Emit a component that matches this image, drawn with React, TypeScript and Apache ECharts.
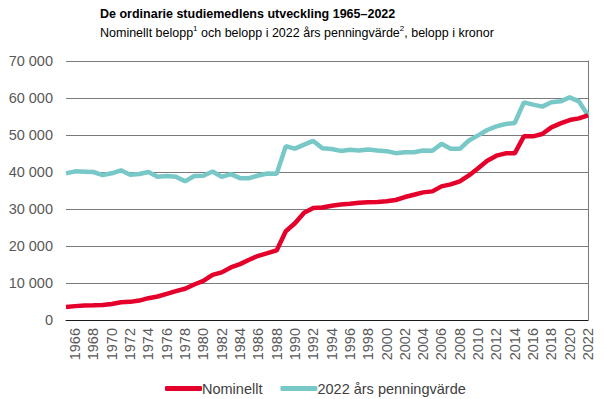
import React, { useEffect, useRef } from "react";
import * as echarts from "echarts";

const years: string[] = [];
for (let y = 1965; y <= 2022; y++) years.push(String(y));

const nominal = [
  3500, 3750, 3900, 3980, 4070, 4340, 4800, 4900, 5250, 5900,
  6350, 7050, 7800, 8450, 9600, 10550, 12200, 12870, 14200, 15100,
  16280, 17350, 18070, 18800, 24000, 26140, 29000, 30270, 30400, 30900,
  31200, 31440, 31710, 31800, 31890, 32070, 32430, 33230, 33860, 34490,
  34760, 36110, 36650, 37460, 39070, 41000, 43060, 44410, 45050, 45050,
  49640, 49640, 50270, 52070, 53150, 54050, 54500, 55300,
];

const real2022 = [
  39640, 40180, 40090, 40000, 39180, 39640, 40450, 39280, 39460, 40000,
  38730, 38910, 38730, 37470, 38910, 39000, 40130, 38700, 39420, 38340,
  38340, 39060, 39600, 39500, 46950, 46320, 47400, 48390, 46410, 46230,
  45700, 45990, 45810, 46080, 45810, 45630, 45090, 45360, 45360, 45810,
  45720, 47610, 46260, 46260, 48510, 49900, 51350, 52340, 52970, 53240,
  58830, 58200, 57660, 58830, 59100, 60180, 59100, 55300,
];

const seriesNames = ["Nominellt", "2022 års penningvärde"];
const titleText = "De ordinarie studiemedlens utveckling 1965–2022";

const FONT = "'Liberation Sans', Arial, sans-serif";

export default function App() {
  const ref = useRef<HTMLDivElement>(null);
  useEffect(() => {
    if (!ref.current) return;
    const chart = echarts.init(ref.current, undefined, { renderer: "svg" });
    const fmt = (v: number) => String(v).replace(/\B(?=(\d{3})+(?!\d))/g, " ");
    chart.setOption({
      animation: false,
      textStyle: { fontFamily: FONT },
      graphic: [
        {
          type: "text",
          left: 100,
          top: 7,
          style: {
            text: titleText,
            font: `bold 12.5px ${FONT}`,
            fill: "#000",
          },
        },
        {
          type: "text",
          left: 100,
          top: 24,
          style: {
            text:
              "{n|Nominellt belopp}{s|1}{n| och belopp i 2022 års penningvärde}{s|2}{n|, belopp i kronor}",
            rich: {
              n: { fontSize: 12.5, fontFamily: FONT, fill: "#000", lineHeight: 15, verticalAlign: "bottom" },
              s: { fontSize: 8, fontFamily: FONT, fill: "#000", lineHeight: 15, verticalAlign: "top" },
            },
          },
        },
      ],
      legend: {
        left: 160,
        top: 376,
        itemGap: 18,
        itemWidth: 37,
        itemHeight: 5,
        icon: "roundRect",
        textStyle: { fontSize: 14.5, color: "#404040", fontFamily: FONT, padding: [0, 0, 0, -5] },
        data: seriesNames,
      },
      grid: { left: 66, right: 18, top: 61, bottom: 79, containLabel: false },
      xAxis: {
        type: "category",
        data: years,
        boundaryGap: false,
        axisLine: { show: true, lineStyle: { color: "#1a1a1a", width: 1 } },
        axisTick: { show: false },
        axisLabel: {
          interval: (index: number) => index % 2 === 1,
          rotate: 90,
          margin: 8,
          fontSize: 14.5,
          color: "#595959",
          fontFamily: FONT,
        },
        splitLine: { show: false },
      },
      yAxis: [
        {
          type: "value",
          min: 0,
          max: 70000,
          interval: 10000,
          axisLine: { show: false },
          axisTick: { show: false },
          axisLabel: {
            formatter: fmt,
            margin: 13,
            fontSize: 14.5,
            color: "#595959",
            fontFamily: FONT,
          },
          splitLine: { show: true, lineStyle: { color: "#7a7a7a", width: 1 } },
        },
        {
          type: "value",
          position: "right",
          min: 0,
          max: 70000,
          interval: 10000,
          axisLine: { show: true, lineStyle: { color: "#7a7a7a", width: 1 } },
          axisTick: { show: false },
          axisLabel: { show: false },
          splitLine: { show: false },
        },
      ],
      series: [
        {
          name: seriesNames[0],
          type: "line",
          data: nominal,
          showSymbol: false,
          symbol: "none",
          lineStyle: { color: "#E4002B", width: 4.5 },
          itemStyle: { color: "#E4002B" },
          z: 3,
        },
        {
          name: seriesNames[1],
          type: "line",
          data: real2022,
          showSymbol: false,
          symbol: "none",
          lineStyle: { color: "#78C8C8", width: 4.5 },
          itemStyle: { color: "#78C8C8" },
          z: 2,
        },
      ],
    });
    return () => chart.dispose();
  }, []);
  return (
    <div
      ref={ref}
      style={{ position: "fixed", left: 0, top: 0, width: 606, height: 399, background: "#fff" }}
    />
  );
}
